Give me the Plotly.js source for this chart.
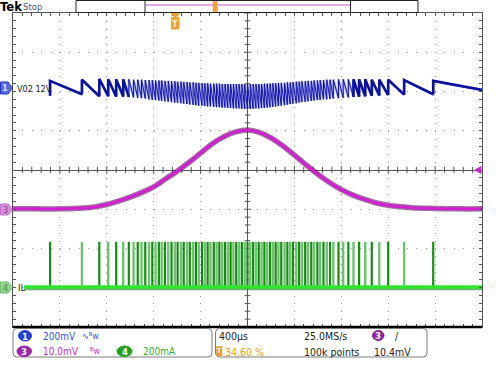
<!DOCTYPE html>
<html><head><meta charset="utf-8">
<script src="https://cdn.plot.ly/plotly-3.0.1.min.js"></script>
<style>html,body{margin:0;padding:0;background:#fff;}#chart{width:500px;height:375px;}</style>
</head><body><div id="chart"></div>
<script>
// ---- DATA (x in divisions, -5..5 at 400 µs/div; y in divisions, -4..4) ----
// switching events: start of each V02 ripple tooth / IL current pulse
const pulseX = [-4.21,-3.53,-3.16,-2.97,-2.80,-2.65,-2.53,-2.43,-2.34,-2.26,-2.18,-2.10,-2.03,-1.96,-1.89,-1.83,
 -1.76,-1.69,-1.62,-1.55,-1.49,-1.42,-1.36,-1.29,-1.23,-1.16,-1.10,-1.04,-0.97,-0.91,-0.85,-0.79,-0.72,-0.66,-0.60,-0.54,
 -0.48,-0.42,-0.36,-0.30,-0.24,-0.18,-0.12,-0.06,0.00,0.06,0.12,0.18,0.24,0.30,0.36,0.42,0.48,0.54,0.60,0.66,0.72,0.79,
 0.85,0.91,0.97,1.04,1.10,1.16,1.23,1.29,1.36,1.42,1.49,1.55,1.62,1.69,1.76,
 1.83,1.94,2.04,2.15,2.26,2.38,2.51,2.65,2.81,3.00,3.34,3.96];
// CH1 (V02) ripple: value right after each jump and value just before the next jump
const blueTop = [2.27,2.30,2.32,2.31,2.31,2.31,2.31,2.30,2.30,2.30,2.29,2.29,2.29,2.28,2.28,2.28,
 2.27,2.27,2.26,2.26,2.25,2.25,2.24,2.24,2.23,2.23,2.22,2.22,2.21,2.21,2.21,2.20,2.20,2.20,2.20,2.19,
 2.19,2.19,2.19,2.19,2.19,2.19,2.19,2.19,2.19,2.19,2.19,2.19,2.19,2.19,2.20,2.20,2.20,2.21,2.21,2.21,2.22,2.22,
 2.23,2.23,2.24,2.25,2.25,2.26,2.26,2.27,2.27,2.28,2.28,2.29,2.29,2.30,2.30,
 2.30,2.31,2.31,2.31,2.31,2.31,2.31,2.30,2.30,2.30,2.29,2.27];
const blueBot = [1.93,1.88,1.88,1.87,1.87,1.86,1.85,1.84,1.83,1.82,1.80,1.79,1.78,1.77,1.76,1.75,
 1.74,1.73,1.72,1.71,1.70,1.69,1.68,1.67,1.66,1.65,1.64,1.64,1.63,1.62,1.62,1.61,1.60,1.60,1.59,1.59,
 1.58,1.58,1.57,1.57,1.57,1.56,1.56,1.56,1.56,1.56,1.57,1.57,1.58,1.58,1.59,1.60,1.61,1.62,1.63,1.64,1.65,1.66,
 1.68,1.69,1.70,1.72,1.73,1.74,1.75,1.76,1.77,1.78,1.79,1.80,1.80,1.81,1.82,
 1.83,1.84,1.85,1.86,1.87,1.88,1.89,1.90,1.91,1.92,1.93,2.04];
const blueStartY = 1.89;
const xEnd = 5.0;
// CH3 envelope
const magX = [-5,-4.5,-4,-3.5,-3.25,-3,-2.75,-2.5,-2.25,-2,-1.75,-1.5,-1.25,-1,-0.75,-0.5,-0.25,0,
 0.25,0.5,0.75,1,1.25,1.5,1.75,2,2.25,2.5,2.75,3,3.5,4,4.5,5];
const magY = [-0.99,-0.99,-0.99,-0.97,-0.94,-0.88,-0.79,-0.69,-0.57,-0.43,-0.23,-0.03,0.19,0.43,0.67,0.85,0.97,1.02,
 0.96,0.82,0.62,0.38,0.13,-0.11,-0.32,-0.50,-0.64,-0.75,-0.84,-0.90,-0.96,-0.98,-0.99,-0.99];
// CH4 (IL)
const ilStartX = -4.76;
const ilBase = -2.98;
const ilPeak = -1.83;
// texts
const ch1Label = 'V02 12V', ch4Label = 'IL';
const ch1Scale = '200mV', ch3Scale = '10.0mV', ch4Scale = '200mA';
const timeScale = '400µs', sampleRate = '25.0MS/s', recLen = '100k points';
const trigPos = '34.60 %', trigLevel = '10.4mV';

// ---- helpers (pixel -> paper) ----
const L = 13, T = 13, PW = 469, PH = 314;
const X = px => (px - L) / PW;
const Y = py => (T + PH - py) / PH;
const FONT = 'Liberation Sans Narrow, DejaVu Sans Condensed, Liberation Sans, Arial, sans-serif';
const shapes = [], annotations = [];
function pline(x0,y0,x1,y1,color,width){shapes.push({type:'line',xref:'paper',yref:'paper',x0:X(x0),y0:Y(y0),x1:X(x1),y1:Y(y1),line:{color:color,width:width}});}
function prect(x0,y0,x1,y1,fill,stroke,w){shapes.push({type:'rect',xref:'paper',yref:'paper',x0:X(x0),y0:Y(y0),x1:X(x1),y1:Y(y1),fillcolor:fill,line:{color:stroke||fill,width:w==null?1:w}});}
function ppoly(pts,fill,stroke){shapes.push({type:'path',xref:'paper',yref:'paper',path:'M'+pts.map(p=>X(p[0])+','+Y(p[1])).join('L')+'Z',fillcolor:fill,line:{color:stroke||fill,width:1}});}
function proundbox(x0,y0,x1,y1,r,stroke){
  const P=(x,y)=>X(x)+','+Y(y);
  const path='M'+P(x0+r,y0)+'L'+P(x1-r,y0)+'Q'+P(x1,y0)+' '+P(x1,y0+r)+'L'+P(x1,y1-r)+'Q'+P(x1,y1)+' '+P(x1-r,y1)+
    'L'+P(x0+r,y1)+'Q'+P(x0,y1)+' '+P(x0,y1-r)+'L'+P(x0,y0+r)+'Q'+P(x0,y0)+' '+P(x0+r,y0)+'Z';
  shapes.push({type:'path',xref:'paper',yref:'paper',path:path,fillcolor:'rgba(0,0,0,0)',line:{color:stroke,width:1}});
}
function poval(x0,y0,x1,y1,fill){shapes.push({type:'circle',xref:'paper',yref:'paper',x0:X(x0),y0:Y(y0),x1:X(x1),y1:Y(y1),fillcolor:fill,line:{color:fill,width:1}});}
function ptxt(px,py,text,color,size,anchor,bold){annotations.push({xref:'paper',yref:'paper',x:X(px),y:Y(py),text:bold?'<b>'+text+'</b>':text,showarrow:false,xanchor:anchor||'left',yanchor:'middle',borderpad:0,font:{family:FONT,size:size,color:color}});}

// ---- traces ----
const bx=[pulseX[0]], by=[blueStartY];
const tx=[], ty=[];
for(let i=0;i<pulseX.length;i++){
  const nx = i+1<pulseX.length ? pulseX[i+1] : xEnd;
  bx.push(pulseX[i], nx); by.push(blueTop[i], blueBot[i]);
  if(nx-pulseX[i]>0.12){
    const prev = i>0 ? blueBot[i-1] : blueStartY;
    tx.push(pulseX[i],pulseX[i],nx,null); ty.push(prev,blueTop[i],blueBot[i],null);
  }
}
const sdx=[],sdy=[],slx=[],sly=[];
pulseX.forEach((x,i)=>{
  if(i%2===0){sdx.push(x,x,null);sdy.push(ilBase,ilPeak,null);}
  else{slx.push(x,x,null);sly.push(ilBase,ilPeak,null);}
});

const traces=[
  {x:slx,y:sly,mode:'lines',line:{color:'#6fc26f',width:2.4},hoverinfo:'skip'},
  {x:sdx,y:sdy,mode:'lines',line:{color:'#148c14',width:2.2},hoverinfo:'skip'},
  {x:[ilStartX,xEnd],y:[ilBase-0.03,ilBase-0.03],mode:'lines',line:{color:'rgba(20,120,20,0.6)',width:4},hoverinfo:'skip'},
  {x:[ilStartX,xEnd],y:[ilBase,ilBase],mode:'lines',line:{color:'#2ee62e',width:3.5},hoverinfo:'skip'},
  {x:magX,y:magY,mode:'lines',line:{color:'rgba(70,0,70,0.55)',width:5.5,shape:'spline'},hoverinfo:'skip'},
  {x:magX,y:magY,mode:'lines',line:{color:'#d41ed4',width:3,shape:'spline'},hoverinfo:'skip'},
  {x:bx,y:by,mode:'lines',line:{color:'rgba(110,120,230,0.55)',width:2.4},hoverinfo:'skip'},
  {x:bx,y:by,mode:'lines',line:{color:'#1414a6',width:1},hoverinfo:'skip'},
  {x:tx,y:ty,mode:'lines',line:{color:'#0c12a0',width:2.6},hoverinfo:'skip'}
];

// ---- graticule crosshair ticks ----
for(let k=-25;k<=25;k++){ if(k%5===0) continue; shapes.push({type:'line',xref:'x',yref:'y',layer:'below',x0:k*0.2,x1:k*0.2,y0:-0.08,y1:0.08,line:{color:'#555',width:1}}); }
for(let k=-20;k<=20;k++){ if(k%5===0) continue; shapes.push({type:'line',xref:'x',yref:'y',layer:'below',x0:-0.06,x1:0.06,y0:k*0.2,y1:k*0.2,line:{color:'#555',width:1}}); }
for(let k=-4;k<=4;k++){ if(k===0) continue; shapes.push({type:'line',xref:'x',yref:'y',layer:'below',x0:k,x1:k,y0:-0.1,y1:0.1,line:{color:'#555',width:1}}); shapes.push({type:'line',xref:'x',yref:'y',layer:'below',x0:-0.08,x1:0.08,y0:k,y1:k,line:{color:'#555',width:1}}); }

// bottom thick border
pline(13,327,482,327,'#000',2.5);

// ---- top bar ----
ptxt(-1,6.5,'Tek','#000',13,'left',true);
ptxt(22,6.5,'Stop','#555',9.5,'left');
prect(76,0.5,418,12.5,'#fff','#222',1);
pline(145,0,145,12.5,'#222',1);
pline(350.5,0,350.5,12.5,'#222',1);
pline(146,5,350,5,'#d88cd8',1.5);
prect(213,1.5,217.5,11.5,'#f0a030','#f0a030',0.5);
// trigger position marker
ppoly([[171,13.5],[179.5,13.5],[175.3,17.5]],'#f0a030');
prect(171.5,17.5,179,29,'#f0a030','#f0a030',1);
ptxt(175.3,23.5,'T','#fff2d8',9,'center',true);

// ---- channel ground markers ----
ppoly([[0.5,82],[8,82],[12.5,88],[8,94],[0.5,94]],'#5a6cdc','#2434c8');
ptxt(5,88,'1','#d8dcff',9,'center',true);
ptxt(15.5,88.5,ch1Label,'#222',9,'left');
ppoly([[0.5,204],[8,204],[12.5,209.5],[8,215],[0.5,215]],'#d890d8','#c070c8');
ptxt(5,209.5,'3','#8a3a8a',9,'center');
ppoly([[0.5,282],[8,282],[12.5,287.5],[8,293],[0.5,293]],'#90d290','#70c070');
ptxt(5,287.5,'4','#4a8a4a',9,'center');
ptxt(16.5,287,ch4Label,'#222',9.5,'left');
// trigger level arrow (right)
ppoly([[475,170],[481,166.5],[481,173.5]],'#c030c0');

// ---- readout boxes ----
proundbox(13,328.5,212,357,4,'#7a7a7a');
proundbox(215.5,328.5,427,357,4,'#7a7a7a');
poval(18.5,330.5,31.5,341,'#2040d8');
ptxt(25,336,'1','#fff',9.5,'center',true);
ptxt(42,336,ch1Scale,'#3a52e0',10,'left');
ptxt(81,335.5,'∿ᴮw','#3a52e0',9,'left');
poval(17,346,31.5,356.5,'#a020a8');
ptxt(24.2,351.2,'3','#fff',9.5,'center',true);
ptxt(42,351.5,ch3Scale,'#c030c8',10,'left');
ptxt(89,350.5,'ᴮw','#c030c8',9,'left');
poval(117,346,132,356.5,'#1fa01f');
ptxt(124.5,351.2,'4','#fff',9.5,'center',true);
ptxt(142,351.5,ch4Scale,'#2fb02f',10,'left');
ptxt(218,336,timeScale,'#222',10.5,'left');
ptxt(303,336,sampleRate,'#222',10.5,'left');
poval(372.5,330.5,384,340.5,'#9020a8');
ptxt(378.2,335.5,'3','#fff',9.5,'center',true);
ptxt(394,335.5,'/','#222',10.5,'left');
prect(216.5,346.5,222,356,'#f0a020','#f0a020',0.5);
ptxt(219.3,351.3,'T','#fff',7,'center',true);
ptxt(224,351.5,trigPos,'#f0a020',10.5,'left');
ptxt(303,351.5,recLen,'#222',10.5,'left');
ptxt(373,351.5,trigLevel,'#222',10.5,'left');

const axisCommon = {showticklabels:false, zeroline:true, zerolinecolor:'#555', zerolinewidth:1,
  showline:true, linecolor:'#555', linewidth:1, mirror:'ticks', ticks:'inside', ticklen:3, tickcolor:'#555', dtick:1, tick0:0,
  showgrid:true, gridcolor:'#9a9a9a', gridwidth:1, fixedrange:true};
const layout = {
  width:500, height:375, margin:{l:L, r:500-L-PW, t:T, b:375-T-PH, pad:0},
  paper_bgcolor:'#fff', plot_bgcolor:'#fff', showlegend:false,
  xaxis:Object.assign({}, axisCommon, {range:[-5,5], griddash:'1px,6.85px', minor:{ticks:'inside', dtick:0.2, tick0:0, ticklen:3, tickcolor:'#555', showgrid:false}}),
  yaxis:Object.assign({}, axisCommon, {range:[-4,4], griddash:'1px,8.38px', minor:{ticks:'inside', dtick:0.2, tick0:0, ticklen:3, tickcolor:'#555', showgrid:false}}),
  shapes:shapes, annotations:annotations
};
Plotly.newPlot('chart', traces, layout, {staticPlot:true, displayModeBar:false});
</script></body></html>
